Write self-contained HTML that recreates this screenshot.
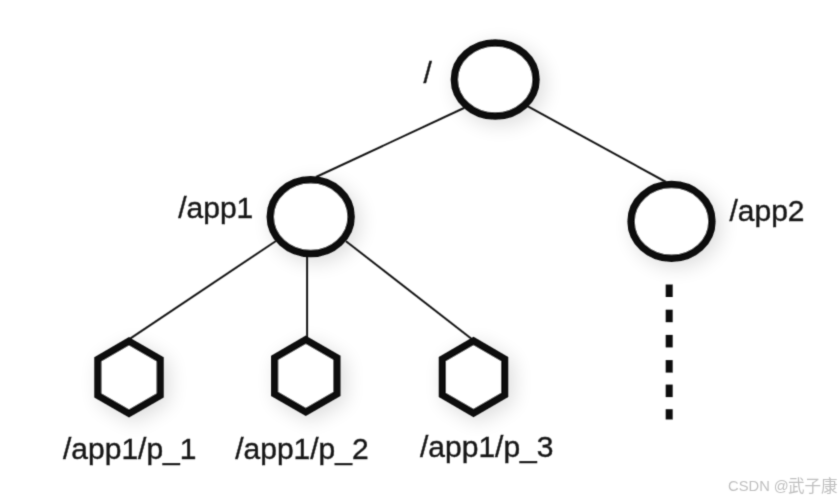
<!DOCTYPE html>
<html>
<head>
<meta charset="utf-8">
<title>ZooKeeper znode tree</title>
<style>
  html, body { margin: 0; padding: 0; background: #ffffff; }
  body { width: 840px; height: 500px; overflow: hidden; font-family: "Liberation Sans", sans-serif; }
  svg { display: block; }
  .lbl { font-family: "Liberation Sans", sans-serif; font-size: 30.4px; fill: #181818; stroke: #181818; stroke-width: 0.4px; }
  .wm { font-family: "Liberation Sans", sans-serif; font-size: 15.3px; fill: #c0c0c0; }
  .wmcjk { font-family: "Liberation Sans", "Noto Sans CJK SC", sans-serif; font-size: 16.5px; fill: #c0c0c0; }
</style>
</head>
<body>
<svg width="840" height="500" viewBox="0 0 840 500">
  <defs>
    <filter id="sh" x="-40%" y="-40%" width="180%" height="180%">
      <feGaussianBlur in="SourceAlpha" stdDeviation="10" result="b"/>
      <feOffset in="b" dx="5" dy="5" result="o"/>
      <feComponentTransfer in="o" result="s"><feFuncA type="linear" slope="0.14"/></feComponentTransfer>
      <feMerge><feMergeNode in="s"/><feMergeNode in="SourceGraphic"/></feMerge>
    </filter>
    <filter id="soft" x="0" y="0" width="840" height="500" filterUnits="userSpaceOnUse">
      <feConvolveMatrix order="3" kernelMatrix="0.0367 0.1915 0.0367 0.1915 1.0000 0.1915 0.0367 0.1915 0.0367" divisor="1.9127" edgeMode="duplicate" preserveAlpha="false"/>
    </filter>
  </defs>
  <rect x="0" y="0" width="840" height="500" fill="#ffffff"/>

  <g filter="url(#soft)">
  <!-- edges -->
  <g stroke="#181818" stroke-width="2" fill="none" stroke-linecap="butt">
    <line x1="464" y1="108" x2="316" y2="177"/>
    <line x1="527" y1="105.8" x2="666" y2="182"/>
    <line x1="276" y1="241" x2="129" y2="339.3"/>
    <line x1="307.1" y1="255" x2="307.1" y2="338"/>
    <line x1="346" y1="241.2" x2="474" y2="340.7"/>
  </g>

  <!-- nodes -->
  <g filter="url(#sh)" stroke="#0f0f0f" stroke-width="7.5" fill="#ffffff">
    <ellipse cx="495.2" cy="79.5" rx="40.8" ry="36.6"/>
    <ellipse cx="310.7" cy="216.7" rx="40.4" ry="36.9"/>
    <ellipse cx="671.5" cy="221.4" rx="40.4" ry="36.8"/>
  </g>
  <g filter="url(#sh)" stroke="#0f0f0f" stroke-width="7.3" fill="#ffffff" stroke-linejoin="miter">
    <polygon points="129.0,341.3 160.1,359.3 160.1,395.3 129.0,413.3 97.9,395.3 97.9,359.3"/>
    <polygon points="305.8,339.8 336.9,357.8 336.9,393.8 305.8,411.8 274.7,393.8 274.7,357.8"/>
    <polygon points="473.5,341.0 504.6,359.0 504.6,395.0 473.5,413.0 442.4,395.0 442.4,359.0"/>
  </g>

  <!-- dotted continuation -->
  <g fill="#0f0f0f">
    <rect x="665.7" y="284.5" width="7" height="12.5"/>
    <rect x="665.7" y="309.7" width="7" height="12.5"/>
    <rect x="665.7" y="334.9" width="7" height="12.5"/>
    <rect x="665.7" y="360.1" width="7" height="12.5"/>
    <rect x="665.7" y="384.6" width="7" height="12.5"/>
    <rect x="665.7" y="409.2" width="7" height="10.3"/>
  </g>

  <!-- labels -->
  <g transform="translate(423.5,83.4) scale(0.987,1)">
    <text class="lbl" x="0.00" y="0">/</text>
  </g>
  <g transform="translate(178.2,217.8) scale(0.987,1)">
    <text class="lbl" x="0.00" y="0">/app</text>
    <text class="lbl" x="59.17" y="0">1</text>
  </g>
  <g transform="translate(729.5,221) scale(0.987,1)">
    <text class="lbl" x="0.00" y="0">/app2</text>
  </g>
  <g transform="translate(63,459.0) scale(0.987,1)">
    <text class="lbl" x="0.00" y="0">/app</text>
    <text class="lbl" x="59.17" y="0">1</text>
    <text class="lbl" x="76.07" y="0">/p_</text>
    <text class="lbl" x="118.33" y="0">1</text>
  </g>
  <g transform="translate(235.2,459.3) scale(0.987,1)">
    <text class="lbl" x="0.00" y="0">/app</text>
    <text class="lbl" x="59.17" y="0">1</text>
    <text class="lbl" x="76.07" y="0">/p_2</text>
  </g>
  <g transform="translate(420,456.6) scale(0.987,1)">
    <text class="lbl" x="0.00" y="0">/app</text>
    <text class="lbl" x="59.17" y="0">1</text>
    <text class="lbl" x="76.07" y="0">/p_3</text>
  </g>
  </g>

  <!-- watermark -->
  <g filter="url(#soft)">
  <text class="wm" transform="translate(728.1,491) scale(0.962,1)" x="0" y="0">CSDN @</text>
  <text class="wmcjk" x="788.06 804.5 820.9" y="491.8">武子康</text>
  </g>
</svg>
</body>
</html>
